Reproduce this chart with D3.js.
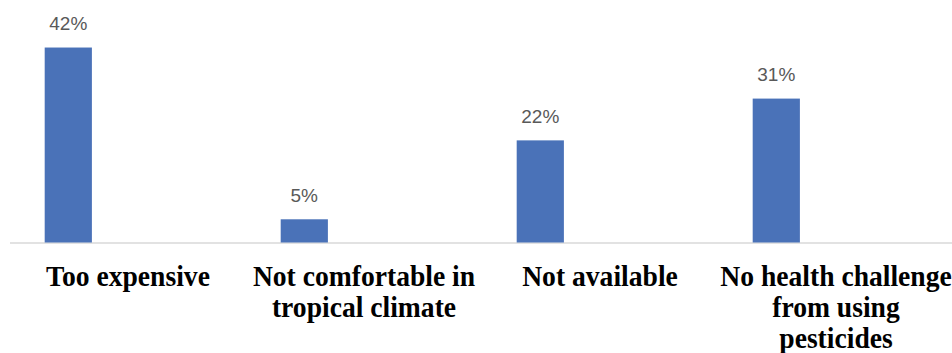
<!DOCTYPE html>
<html>
<head>
<meta charset="utf-8">
<script src="https://cdn.jsdelivr.net/npm/d3@7"></script>
<style>
  body { margin: 0; background: #fff; }
  svg { display: block; }
  .cat text { font-family: "Liberation Serif", Tinos, "Noto Serif", "DejaVu Serif", FreeSerif, "Nimbus Roman", Times, serif; font-weight: bold; }
</style>
</head>
<body>
<div id="chart"></div>
<script>
// chart data
var categories = [
  "Too expensive",
  "Not comfortable in tropical climate",
  "Not available",
  "No health challenge from using pesticides"
];
var labelLines = [
  ["Too expensive"],
  ["Not comfortable in", "tropical climate"],
  ["Not available"],
  ["No health challenge", "from using", "pesticides"]
];
var values = [42, 5, 22, 31];

var width = 952;
var height = 353;

var svg = d3.select("#chart").append("svg")
  .attr("width", width)
  .attr("height", height);

// category bands run a bit past the right edge (picture is cropped)
var x = d3.scaleBand().domain(categories).range([10, 954]);
// each band holds 4 slots, only the first one is drawn
var slot = d3.scaleBand().domain(d3.range(4)).range([0, x.bandwidth()])
  .paddingInner(0).paddingOuter(0.5).align(0.735);
var y = d3.scaleLinear().domain([0, 45]).range([242.5, 33.6]);

// axis line
svg.append("line")
  .attr("x1", 10)
  .attr("x2", width)
  .attr("y1", y(0) + 0.5)
  .attr("y2", y(0) + 0.5)
  .attr("stroke", "#d9d9d9")
  .attr("stroke-width", 1.5);

// bars
svg.selectAll(".bar")
  .data(values)
  .enter()
  .append("rect")
  .attr("class", "bar")
  .attr("x", function (d, i) { return x(categories[i]) + slot(0); })
  .attr("y", function (d) { return y(d); })
  .attr("width", slot.bandwidth())
  .attr("height", function (d) { return y(0) - y(d); })
  .attr("fill", "#4a72b8");

// value labels
svg.selectAll(".val")
  .data(values)
  .enter()
  .append("text")
  .attr("class", "val")
  .attr("x", function (d, i) { return x(categories[i]) + slot(0) + slot.bandwidth() / 2; })
  .attr("y", function (d) { return y(d) - 17.5; })
  .attr("text-anchor", "middle")
  .style("font-family", "'Liberation Sans', Arial, sans-serif")
  .style("font-size", "19px")
  .style("fill", "#595959")
  .text(function (d) { return d + "%"; });

// category labels (bold serif, wrapped)
var labels = svg.selectAll(".cat")
  .data(categories)
  .enter()
  .append("g")
  .attr("class", "cat")
  .attr("transform", function (d) {
    return "translate(" + (x(d) + x.bandwidth() / 2) + ",0)";
  });

labels.each(function (d, i) {
  var g = d3.select(this);
  labelLines[i].forEach(function (line, j) {
    var by = 285.7 + j * 31;
    g.append("text")
      .attr("x", 0)
      .attr("y", 0)
      .attr("transform", "translate(0," + by + ") scale(1,1.07)")
      .attr("text-anchor", "middle")
      .style("font-size", "27.6px")
      .style("fill", "#000")
      .text(line);
  });
});
</script>
</body>
</html>
